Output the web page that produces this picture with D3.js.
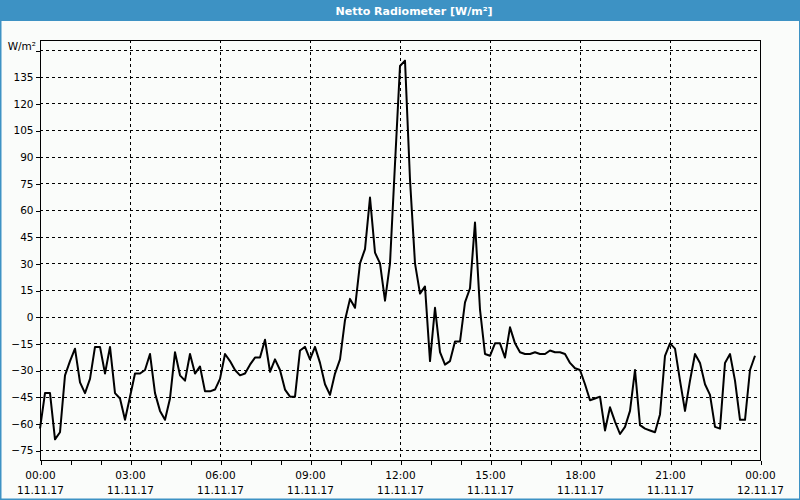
<!DOCTYPE html>
<html>
<head>
<meta charset="utf-8">
<script src="https://cdn.jsdelivr.net/npm/d3@7"></script>
<style>
  html, body { margin: 0; padding: 0; background: #fafcfa; }
  svg { display: block; }
  text { font-family: "DejaVu Sans", "Liberation Sans", sans-serif; }
</style>
</head>
<body>
<svg id="chart" width="800" height="500"></svg>
<script>
// ---- data ----
const title = "Netto Radiometer [W/m²]";
const unitLabel = "W/m²";
const startTime = Date.UTC(2017, 10, 11, 0, 0);
const endTime = Date.UTC(2017, 10, 12, 0, 0);
const stepMinutes = 10;
// Net radiation, one value every 10 minutes from 00:00
const values = [
  -63, -43, -43, -69, -65, -33, -25, -18, -37, -43,
  -35, -17, -17, -32, -17, -43, -46, -58, -45, -32,
  -32, -30, -21, -43, -53, -58, -46, -20, -33, -36,
  -21, -32, -28, -42, -42, -41, -35, -21, -25, -30,
  -33, -32, -27, -23, -23, -13, -31, -24, -30, -41,
  -45, -45, -19, -17, -24, -17, -26, -38, -44, -32,
  -24, -2, 10, 5, 30, 38, 67, 36, 30, 9,
  30, 86, 141, 144, 77, 30, 13, 17, -25, 5,
  -20, -27, -25, -14, -14, 8, 16, 53, 4, -21,
  -22, -15, -15, -23, -6, -15, -20, -21, -21, -20,
  -21, -21, -19, -20, -20, -21, -26, -29, -30, -38,
  -47, -46, -45, -64, -51, -59, -66, -62, -53, -30,
  -61, -63, -64, -65, -55, -22, -15, -18, -36, -53,
  -36, -21, -26, -38, -44, -62, -63, -26, -21, -36,
  -58, -58, -30, -22
];
const yTicks = [-75, -60, -45, -30, -15, 0, 15, 30, 45, 60, 75, 90, 105, 120, 135, 150];
const yDomain = [-80.625, 155.625];
const xTickHours = [0, 3, 6, 9, 12, 15, 18, 21, 24];

// ---- layout ----
const svg = d3.select("#chart");
const W = 800, H = 500;
const plot = { left: 40, right: 760, top: 40, bottom: 460 };
const blue = "#3d92c4";

svg.append("rect").attr("x", 0).attr("y", 0).attr("width", W).attr("height", H).attr("fill", blue);
svg.append("rect").attr("x", 1.5).attr("y", 21).attr("width", W - 2.5).attr("height", H - 22.5).attr("fill", "#fafcfa");
svg.append("text").attr("x", 414).attr("y", 15).attr("text-anchor", "middle")
  .attr("fill", "#ffffff").attr("font-weight", "bold").attr("font-size", "11px").text(title);

const data = values.map((v, i) => ({ t: new Date(startTime + i * stepMinutes * 60000), v }));

const x = d3.scaleUtc().domain([new Date(startTime), new Date(endTime)]).range([plot.left, plot.right]);
const y = d3.scaleLinear().domain(yDomain).range([plot.bottom, plot.top]);

const xTicks = xTickHours.map(h => new Date(startTime + h * 3600000));
const hourTicks = d3.range(0, 25).map(h => new Date(startTime + h * 3600000));

// grid
const grid = svg.append("g").attr("shape-rendering", "crispEdges");
grid.selectAll("line.h").data(yTicks).join("line")
  .attr("x1", plot.left).attr("x2", plot.right)
  .attr("y1", d => Math.round(y(d)) + 0.5).attr("y2", d => Math.round(y(d)) + 0.5)
  .attr("stroke", "#000").attr("stroke-dasharray", "3,3");
grid.selectAll("line.v").data(xTicks.slice(1, -1)).join("line")
  .attr("x1", d => Math.round(x(d)) + 0.5).attr("x2", d => Math.round(x(d)) + 0.5)
  .attr("y1", plot.top).attr("y2", plot.bottom)
  .attr("stroke", "#000").attr("stroke-dasharray", "3,3");

// frame
svg.append("rect").attr("x", plot.left + 0.5).attr("y", plot.top + 0.5)
  .attr("width", plot.right - plot.left).attr("height", plot.bottom - plot.top)
  .attr("fill", "none").attr("stroke", "#000").attr("shape-rendering", "crispEdges");

// x axis
const fmtTime = d3.utcFormat("%H:%M");
const fmtDate = d3.utcFormat("%d.%m.%y");
const xAxis = d3.axisBottom(x).tickValues(hourTicks).tickSize(4).tickFormat("");
const gx = svg.append("g").attr("transform", `translate(0.5,${plot.bottom + 0.5})`).call(xAxis);
gx.select(".domain").remove();
gx.selectAll("line").attr("shape-rendering", "crispEdges");
const xl = svg.append("g");
xl.selectAll("text.t").data(xTicks).join("text")
  .attr("x", d => x(d) + 0.5).attr("y", 479).attr("text-anchor", "middle")
  .attr("font-size", "10.5px").attr("fill", "#000").text(d => fmtTime(d));
xl.selectAll("text.d").data(xTicks).join("text")
  .attr("x", d => x(d) + 0.5).attr("y", 494).attr("text-anchor", "middle")
  .attr("font-size", "10.5px").attr("fill", "#000").text(d => fmtDate(d));

// y axis
const yAxis = d3.axisLeft(y).tickValues(yTicks).tickSize(5)
  .tickFormat(d => d === 150 ? "" : d3.format("d")(d));
const gy = svg.append("g").attr("transform", `translate(${plot.left + 0.5},0.5)`).call(yAxis);
gy.select(".domain").remove();
gy.selectAll("line").attr("shape-rendering", "crispEdges");
gy.selectAll("text").attr("font-size", "10.5px").attr("font-family", null).attr("fill", "#000").attr("x", -7);
svg.append("text").attr("x", 36).attr("y", 50).attr("text-anchor", "end")
  .attr("font-size", "10.5px").attr("fill", "#000").text(unitLabel);

// line
const line = d3.line().x(d => x(d.t)).y(d => y(d.v));
svg.append("path").datum(data).attr("d", line)
  .attr("fill", "none").attr("stroke", "#000").attr("stroke-width", 2).attr("stroke-linejoin", "round");
</script>
</body>
</html>
